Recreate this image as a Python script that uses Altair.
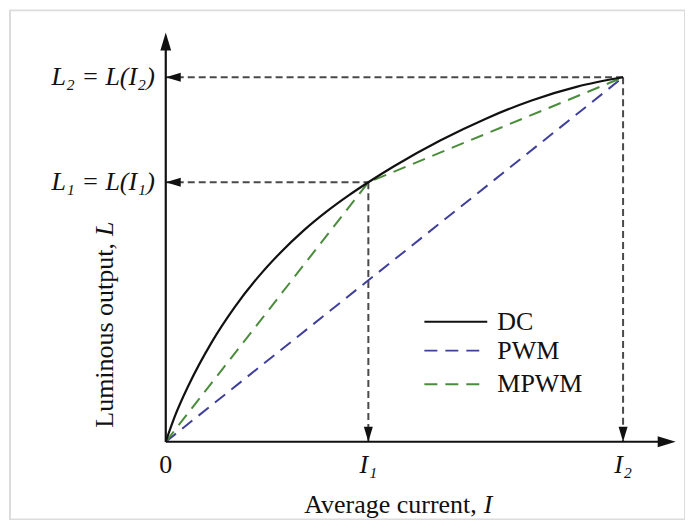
import altair as alt
import pandas as pd

# ---------------- data ----------------
I1, L1 = 0.443, 0.712          # operating point 1
I2, L2 = 1.0, 1.0              # operating point 2

dc_current = [0, 0.02, 0.05, 0.10, 0.15, 0.20, 0.25, 0.30, 0.35, 0.40, 0.443, 0.50, 0.60, 0.70, 0.80, 0.90, 1.0]
dc_output = [0, 0.07, 0.155, 0.272, 0.368, 0.449, 0.518, 0.578, 0.630, 0.676, 0.712, 0.7565, 0.8265, 0.8865,
             0.9365, 0.9745, 1.0]
pwm_current = [0, 1.0]
pwm_output = [0, 1.0]
mpwm_current = [0, 0.443, 1.0]
mpwm_output = [0, 0.712, 1.0]

series_names = ["DC", "PWM", "MPWM"]
series_colors = ["#111111", "#3f3f9c", "#4b8c3c"]
series_dash = [[1, 0], [13, 8], [13, 8]]

tick_values = [0, I1, I2]
tick_labels = ["0", "I₁", "I₂"]
level_values = [L1, L2]
level_labels = ["L₁ = L(I₁)", "L₂ = L(I₂)"]
x_title_text, x_title_var = "Average current,", "I"
y_title_text, y_title_var = "Luminous output,", "L"

# ---------------- layout constants (data units) ----------------
X_DOM = [-0.3406, 1.1354]
Y_DOM = [-0.2137, 1.1836]
X_AXIS_END = 1.115
Y_AXIS_END = 1.123
FONT = "Liberation Serif"
FS = 26

xs = alt.Scale(domain=X_DOM, nice=False, zero=False)
ys = alt.Scale(domain=Y_DOM, nice=False, zero=False)


def X(f):
    return alt.X(f, type="quantitative", scale=xs, axis=None)


def Y(f):
    return alt.Y(f, type="quantitative", scale=ys, axis=None)


# curves
dc_df = pd.DataFrame({"I": dc_current, "L": dc_output, "series": "DC"})
pwm_df = pd.DataFrame({"I": pwm_current, "L": pwm_output, "series": "PWM"})
mpwm_df = pd.DataFrame({"I": mpwm_current, "L": mpwm_output, "series": "MPWM"})
lin_df = pd.concat([pwm_df, mpwm_df], ignore_index=True)

color_scale = alt.Scale(domain=series_names, range=series_colors)
dash_scale = alt.Scale(domain=series_names, range=series_dash)

pwm_layer = alt.Chart(lin_df).mark_line(strokeWidth=2).encode(
    x=X("I"), y=Y("L"),
    color=alt.Color("series:N", scale=color_scale, legend=None),
    strokeDash=alt.StrokeDash("series:N", scale=dash_scale, legend=None),
    detail="series:N",
)
dc_layer = alt.Chart(dc_df).mark_line(strokeWidth=2.2, interpolate="monotone", color="#111111").encode(
    x=X("I"), y=Y("L")
)

# axes
axes_df = pd.DataFrame({"x": [0, 0], "y": [0, 0], "x2": [0, X_AXIS_END - 0.02], "y2": [Y_AXIS_END - 0.03, 0]})
axes_layer = alt.Chart(axes_df).mark_rule(color="#111111", strokeWidth=2.2).encode(
    x=X("x"), y=Y("y"), x2="x2:Q", y2="y2:Q"
)

# guide dashed lines
guide_df = pd.DataFrame({
    "x": [0, I1, 0, I2],
    "y": [L1, L1, L2, L2],
    "x2": [I1, I1, I2, I2],
    "y2": [L1, 0, L2, 0],
})
guide_layer = alt.Chart(guide_df).mark_rule(color="#4a4a4a", strokeWidth=2, strokeDash=[7, 4]).encode(
    x=X("x"), y=Y("y"), x2="x2:Q", y2="y2:Q"
)

ARROW = "M0,0L0.6,2L-0.6,2Z"
axis_heads = pd.DataFrame({"x": [0, X_AXIS_END], "y": [Y_AXIS_END, 0], "a": [0, 90]})
guide_heads = pd.DataFrame({"x": [0, 0, I1, I2], "y": [L1, L2, 0, 0], "a": [270, 270, 180, 180]})
axis_head_layer = alt.Chart(axis_heads).mark_point(
    shape=ARROW, filled=True, color="#111111", size=324, opacity=1, strokeWidth=0
).encode(x=X("x"), y=Y("y"), angle=alt.Angle("a:Q", scale=None))
guide_head_layer = alt.Chart(guide_heads).mark_point(
    shape=ARROW, filled=True, color="#111111", size=225, opacity=1, strokeWidth=0
).encode(x=X("x"), y=Y("y"), angle=alt.Angle("a:Q", scale=None))

# tick labels
tick_df = pd.DataFrame({"x": tick_values, "t": tick_labels, "y": -0.065})
tick_up = alt.Chart(tick_df.iloc[:1]).mark_text(font=FONT, fontSize=FS, baseline="middle", color="#111111").encode(
    x=X("x"), y=Y("y"), text="t:N"
)
tick_it = alt.Chart(tick_df.iloc[1:]).mark_text(font=FONT, fontSize=FS, fontStyle="italic", baseline="middle",
                                                color="#111111").encode(x=X("x"), y=Y("y"), text="t:N")

level_df = pd.DataFrame({"y": level_values, "t": level_labels, "x": -0.024})
level_layer = alt.Chart(level_df).mark_text(font=FONT, fontSize=FS, fontStyle="italic", align="right",
                                            baseline="middle", color="#111111").encode(
    x=X("x"), y=Y("y"), text="t:N"
)

# axis titles
xt_df = pd.DataFrame({"x": [0.680], "y": [-0.173], "t": [x_title_text], "v": [x_title_var]})
xt1 = alt.Chart(xt_df).mark_text(font=FONT, fontSize=FS, align="right", baseline="middle", color="#111111").encode(
    x=X("x"), y=Y("y"), text="t:N")
xt2 = alt.Chart(xt_df).mark_text(font=FONT, fontSize=FS, fontStyle="italic", align="left", baseline="middle",
                                 dx=7, color="#111111").encode(x=X("x"), y=Y("y"), text="v:N")

yt_df = pd.DataFrame({"x": [-0.133], "y": [0.545], "t": [y_title_text], "v": [y_title_var]})
yt1 = alt.Chart(yt_df).mark_text(font=FONT, fontSize=FS, align="right", baseline="middle", angle=270,
                                 color="#111111").encode(x=X("x"), y=Y("y"), text="t:N")
yt2 = alt.Chart(yt_df).mark_text(font=FONT, fontSize=FS, fontStyle="italic", align="left", baseline="middle",
                                 angle=270, dx=7, color="#111111").encode(x=X("x"), y=Y("y"), text="v:N")

# legend (drawn in the plot)
LEG_X0, LEG_X1, LEG_TX = 0.5655, 0.703, 0.725
LEG_Y = [0.329, 0.250, 0.158]
leg_df = pd.DataFrame({"series": series_names, "y": LEG_Y, "x": LEG_X0, "x2": LEG_X1, "tx": LEG_TX})
leg_lines = alt.Chart(leg_df).mark_rule(strokeWidth=2).encode(
    x=X("x"), x2="x2:Q", y=Y("y"),
    color=alt.Color("series:N", scale=color_scale, legend=None),
    strokeDash=alt.StrokeDash("series:N", scale=dash_scale, legend=None),
)
leg_text = alt.Chart(leg_df).mark_text(font=FONT, fontSize=FS, align="left", baseline="middle",
                                       color="#111111").encode(x=X("tx"), y=Y("y"), text="series:N")

chart = alt.layer(
    guide_layer, pwm_layer, dc_layer, axes_layer, axis_head_layer, guide_head_layer,
    tick_up, tick_it, level_layer, xt1, xt2, yt1, yt2, leg_lines, leg_text,
).properties(
    width=676, height=510,
    autosize=alt.AutoSizeParams(type="none"),
    padding={"left": 2, "top": 2, "right": 0, "bottom": 0},
    background="white",
).configure_view(stroke="#dcdcdc", strokeWidth=2)

chart.save("out.html", embed_options={"renderer": "svg", "actions": False})
